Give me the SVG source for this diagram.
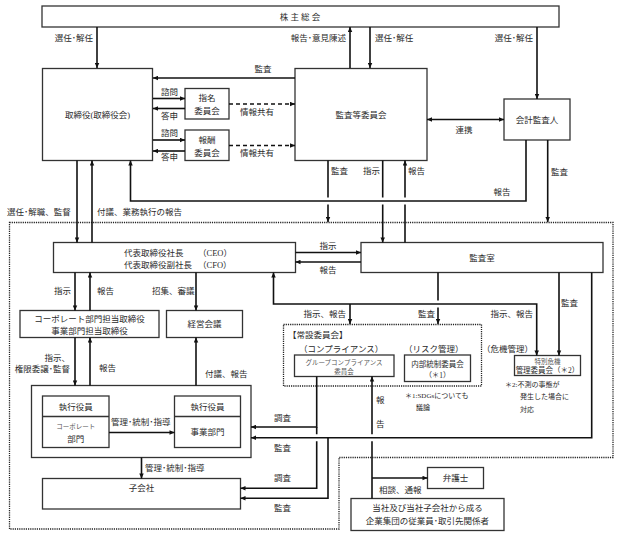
<svg xmlns="http://www.w3.org/2000/svg" width="619" height="536" viewBox="0 0 619 536">
<defs>
<marker id="a" viewBox="0 0 10 10" refX="10" refY="5" markerWidth="5.5" markerHeight="5" markerUnits="userSpaceOnUse" orient="auto-start-reverse"><path d="M0,0.5 L10,5 L0,9.5z" fill="#111"/></marker>
</defs>
<style>
.bx{fill:#fff;stroke:#333;stroke-width:1.3}
.ln{fill:none;stroke:#111;stroke-width:1.6}
.ar{marker-end:url(#a)}
.ds{stroke-dasharray:4 3}
.dt{fill:none;stroke:#222;stroke-width:1.3;stroke-dasharray:1.2 1}
.h{fill:none;stroke:#fff;stroke-width:7}
text{font-family:"Liberation Serif","Noto Sans CJK JP",serif;font-size:8.5px;fill:#2a2a2a}
.m{text-anchor:middle}
.e{text-anchor:end}
.s{font-size:7px}
.xs{font-size:6.5px;fill:#555}
</style>
<rect width="619" height="536" fill="#fff"/>
<path class="dt" d="M9.5,222.5 H613 V457.5 H339 V529 H9.5 Z"/>
<g id="n-shareholders"><rect class="bx" x="42" y="6" width="517" height="21"/><text class="m" x="300" y="20">株 主 総 会</text></g>
<g id="n-board"><rect class="bx" x="42.5" y="68.5" width="110" height="92"/><text class="m" x="97.5" y="118">取締役(取締役会)</text></g>
<g id="n-nomination"><rect class="bx" x="185" y="88.5" width="44" height="30.5"/><text class="m" x="207" y="101">指名</text><text class="m" x="207" y="114">委員会</text></g>
<g id="n-remuneration"><rect class="bx" x="185" y="130" width="44" height="30.5"/><text class="m" x="207" y="143">報酬</text><text class="m" x="207" y="156">委員会</text></g>
<g id="n-auditcommittee"><rect class="bx" x="295" y="68.5" width="132" height="92"/><text class="m" x="361" y="118">監査等委員会</text></g>
<g id="n-accountingauditor"><rect class="bx" x="504" y="99" width="66" height="41"/><text class="m" x="537" y="123">会計監査人</text></g>
<g id="n-ceo"><rect class="bx" x="53.5" y="242.5" width="242" height="30"/><text x="124" y="256">代表取締役社長</text><text x="198" y="256">（CEO）</text><text x="124" y="268">代表取締役副社長</text><text x="198" y="268">（CFO）</text></g>
<g id="n-auditoffice"><rect class="bx" x="361" y="242.5" width="242" height="30"/><text class="m" x="482" y="261">監査室</text></g>
<g id="n-directors"><rect class="bx" x="20" y="310.5" width="139" height="27"/><text class="m" x="89.5" y="321.5">コーポレート部門担当取締役</text><text class="m" x="89.5" y="333.5">事業部門担当取締役</text></g>
<g id="n-mgmtmeeting"><rect class="bx" x="166.5" y="310.5" width="76" height="27"/><text class="m" x="204.5" y="327">経営会議</text></g>
<g id="n-executives"><rect class="bx" x="31.5" y="385.5" width="219.5" height="72"/>
<rect class="bx" x="42.5" y="396" width="66.5" height="51.5"/><line class="bx" x1="42.5" y1="416.5" x2="109" y2="416.5"/>
<text class="m" x="75.8" y="409.5">執行役員</text><text class="m xs" x="75.8" y="428.5">コーポレート</text><text class="m" x="75.8" y="442">部門</text>
<rect class="bx" x="174.5" y="396" width="66" height="51.5"/><line class="bx" x1="174.5" y1="416.5" x2="240.5" y2="416.5"/>
<text class="m" x="207.5" y="409.5">執行役員</text><text class="m" x="207.5" y="435">事業部門</text></g>
<g id="n-subsidiary"><rect class="bx" x="42.5" y="478.5" width="198" height="30.5"/><text class="m" x="141.5" y="491">子会社</text></g>
<g id="n-standing"><rect class="dt" x="283.5" y="324.5" width="198" height="61.5"/><text x="288" y="338">【常設委員会】</text><text x="299" y="352">（コンプライアンス）</text><text x="404" y="352">（リスク管理）</text></g>
<g id="n-compliance"><rect class="bx" x="294.5" y="355" width="99.5" height="21.5"/><text class="m xs" x="344" y="364.5">グループコンプライアンス</text><text class="m xs" x="344" y="373.5">委員会</text></g>
<g id="n-internalcontrol"><rect class="bx" x="404.5" y="355" width="66" height="26.5"/><text class="m" x="437.5" y="367" style="font-size:7.5px">内部統制委員会</text><text class="m" x="437.5" y="378" style="font-size:7.5px">（＊1）</text></g>
<g id="n-crisis"><text x="482" y="352">（危機管理）</text><rect class="bx" x="514.5" y="355.5" width="66" height="20"/><text class="m xs" x="547.5" y="363.5">特別危機</text><text class="m" x="547.5" y="373" style="font-size:7.5px">管理委員会（＊2）</text></g>
<g id="n-lawyer"><rect class="bx" x="427.5" y="467.5" width="56" height="21"/><text class="m" x="455.5" y="481">弁護士</text></g>
<g id="n-employees"><rect class="bx" x="351" y="498.5" width="153" height="32"/><text class="m" x="427.5" y="511">当社及び当社子会社から成る</text><text class="m" x="427.5" y="524">企業集団の従業員･取引先関係者</text></g>
<g id="notes"><text class="s" x="405" y="398">＊1:SDGsについても</text><text class="s" x="416" y="410">議論</text><text class="s" x="505" y="387">＊2:不測の事態が</text><text class="s" x="520" y="399">発生した場合に</text><text class="s" x="520" y="412">対応</text></g>
<g id="connectors">
<path class="ln ar" d="M97,27 V68"/>
<path class="ln ar" d="M350,68 V27"/>
<path class="ln ar" d="M370,27 V68"/>
<path class="ln ar" d="M537,27 V99"/>
<path class="ln ar" d="M295,78 H153"/>
<path class="ln ar" d="M153,98.5 H185"/>
<path class="ln ar" d="M185,108.5 H153"/>
<path class="ln ar" d="M153,140 H185"/>
<path class="ln ar" d="M185,151 H153"/>
<path class="ln ar ds" d="M229,104 H295"/>
<path class="ln ar ds" d="M229,145.5 H295"/>
<path class="ln ar" d="M427,119.5 H504" style="marker-start:url(#a)"/>
<path class="ln ar" d="M547.7,140 V222"/>
<path class="ln ar" d="M328,160.5 V222"/>
<path class="ln ar" d="M382.7,160.5 V242.5"/>
<path class="ln ar" d="M405,242.5 V160.5"/>
<path class="h" d="M320,201 H413"/>
<path class="ln ar" d="M526,140 V201 H130.5 V160.5"/>
<path class="ln ar" d="M77,160.5 V242.5"/>
<path class="ln ar" d="M92,242.5 V160.5"/>
<path class="ln ar" d="M295.5,252.5 H361"/>
<path class="ln ar" d="M361,262 H295.5"/>
<path class="ln ar" d="M75,272.5 V310.5"/>
<path class="ln ar" d="M90,310.5 V272.5"/>
<path class="ln ar" d="M196,272.5 V310.5"/>
<path class="ln ar" d="M438,272.5 V324"/>
<path class="h" d="M431,304 H445"/>
<path class="ln ar" d="M536.7,355.5 V304 H273.5 V272.5" style="marker-start:url(#a)"/>
<path class="ln ar" d="M350,304 V324"/>
<path class="ln ar" d="M559,272.5 V355.5"/>
<path class="ln ar" d="M75,337.5 V385.5"/>
<path class="ln ar" d="M90,385.5 V337.5"/>
<path class="ln ar" d="M196,385.5 V337.5"/>
<path class="ln ar" d="M109,432.5 H174.5"/>
<path class="ln ar" d="M141.5,457.5 V478.5"/>
<path class="ln ar" d="M316.7,376.5 V427 H251"/>
<path class="ln ar" d="M316.7,427 V488.3 H240.5"/>
<path class="ln ar" d="M372,498.5 V376.5"/>
<path class="ln ar" d="M372,478 H427.5"/>
<path class="h" d="M308,437.7 H380"/>
<path class="ln ar" d="M591.7,272.5 V437.7 H251"/>
<path class="ln ar" d="M328,437.7 V498.3 H240.5"/>
</g>
<g id="labels">
<text class="e" x="93" y="41">選任･解任</text>
<text class="e" x="346" y="41">報告･意見陳述</text>
<text x="375" y="41">選任･解任</text>
<text class="e" x="533" y="41">選任･解任</text>
<text class="m" x="263" y="72">監査</text>
<text x="161" y="95">諮問</text>
<text x="161" y="119">答申</text>
<text x="161" y="136">諮問</text>
<text x="161" y="160">答申</text>
<text x="240" y="115">情報共有</text>
<text x="240" y="156">情報共有</text>
<text class="m" x="464" y="133">連携</text>
<text class="m" x="502" y="195">報告</text>
<text x="551" y="175">監査</text>
<text x="331" y="174">監査</text>
<text x="363" y="174">指示</text>
<text x="408" y="174">報告</text>
<text x="7" y="215">選任･解職、監督</text>
<text x="97" y="215">付議、業務執行の報告</text>
<text class="m" x="328" y="249">指示</text>
<text class="m" x="328" y="273">報告</text>
<text class="e" x="71" y="294">指示</text>
<text x="97" y="294">報告</text>
<text x="152" y="294">招集、審議</text>
<text class="e" x="346" y="317">指示、報告</text>
<text class="e" x="435" y="317">監査</text>
<text class="e" x="533" y="317">指示、報告</text>
<text x="561" y="306">監査</text>
<text class="e" x="70" y="361">指示、</text>
<text class="e" x="70" y="372">権限委譲･監督</text>
<text x="99" y="371">報告</text>
<text x="205" y="377">付議、報告</text>
<text x="111" y="425">管理･統制･指導</text>
<text x="145" y="471">管理･統制･指導</text>
<text x="274" y="421">調査</text>
<text x="274" y="451">監査</text>
<text x="274" y="481">調査</text>
<text x="274" y="511">監査</text>
<text x="376" y="403">報</text>
<text x="376" y="427">告</text>
<text x="379" y="493">相談、通報</text>
</g>
</svg>
